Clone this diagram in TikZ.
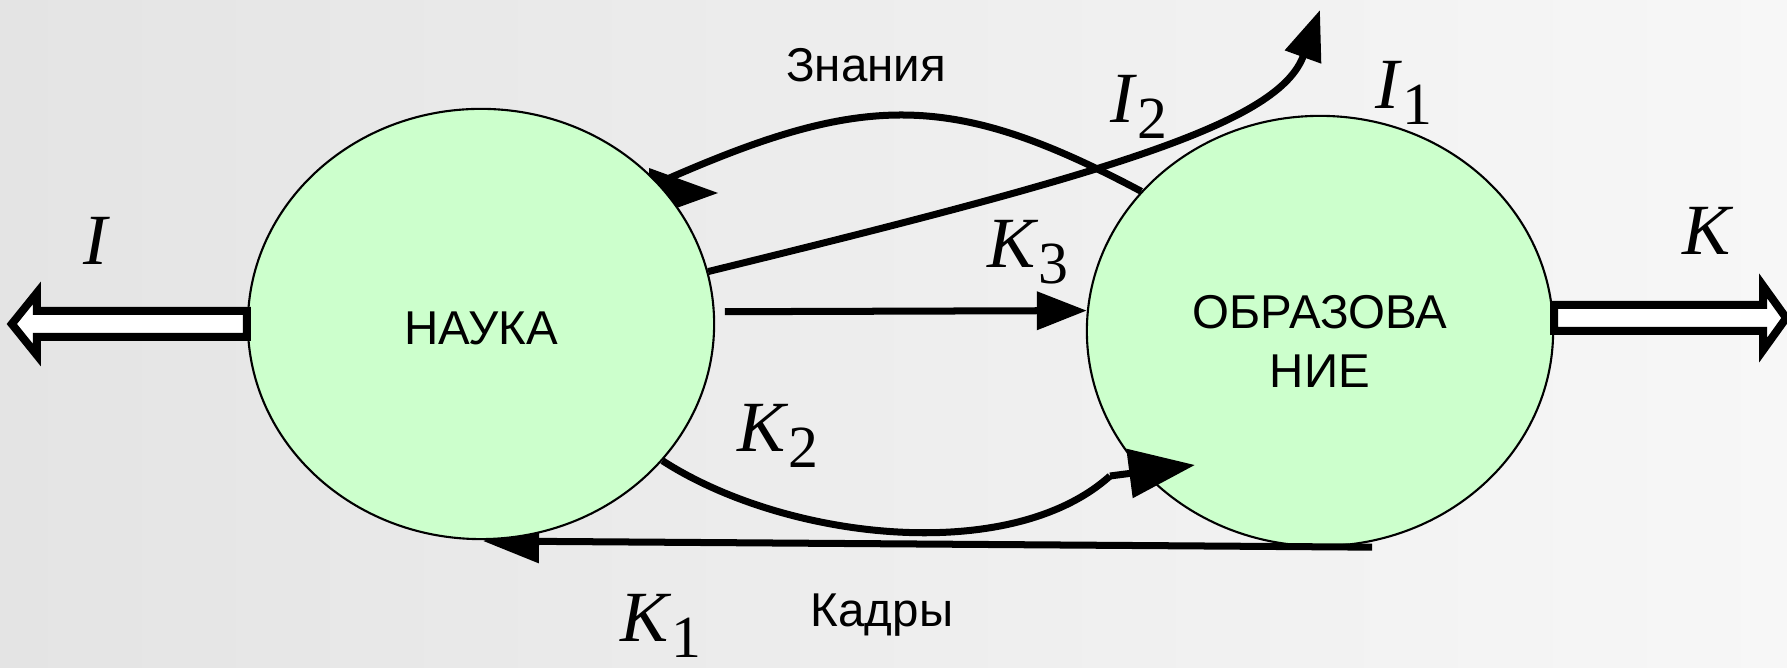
\documentclass[tikz,border=0pt]{standalone}
\usepackage{fontspec}
\setmainfont{Liberation Sans}
\newfontfamily\symfont{Liberation Serif}
\usetikzlibrary{arrows.meta,shapes.geometric}

\definecolor{bgleft}{RGB}{228,228,228}
\definecolor{bgright}{RGB}{247,247,247}
\definecolor{field}{RGB}{204,255,204}

% italic flow letter with a lowered index
\newcommand{\flowsym}[2]{\textit{#1}\raisebox{-4.5pt}{\fontsize{17}{17}\selectfont #2}}

\begin{document}
\begin{tikzpicture}[x=0.01cm, y=-0.01cm,
  sphere/.style={ellipse, draw, line width=0.6pt, fill=field, inner sep=0pt,
    minimum width=4.66cm, minimum height=4.3cm},
  word/.style={font=\fontsize{13.5}{16.8}\selectfont, align=center},
  sym/.style={font=\symfont\fontsize{20.5}{24}\selectfont},
  flow/.style={line width=0.07cm},
  tip/.style={-{Triangle[length=0.5cm,width=0.37cm]}},
  longtip/.style={-{Triangle[length=0.56cm,width=0.42cm]}},
  hollow/.style={draw, fill=white, line width=0.08cm, line join=miter}]

  \shade [left color=bgleft, right color=bgright] (0,0) rectangle (1787,668);
  \useasboundingbox (0,0) rectangle (1787,668);

  \node [sphere] (obr) at (1320,331) {};
  \node [word] (obrt) at (1320,341) {ОБРАЗОВА\\НИЕ};

  \coordinate (kadry) at (483,541);
  \coordinate (znan) at (665,180);

  % these two run under the left field
  \draw [flow, longtip] ([xshift=0.52cm]obr.south) -- (kadry);
  \draw [flow] (obr.142.6) .. controls (951,90) and (863,93) .. (znan);
  \fill (znan) ++(53,13) -- ++(-69,-25) -- ++(0,50) -- cycle;

  \node [sphere] (nauka) at (481,324) {};
  \node [word] (naukat) at (481,328) {НАУКА};

  \draw [hollow] (nauka.west) ++(0,-13) -- ++(-210,0) -- ++(0,-18) -- ++(-25,31)
    -- ++(25,31) -- ++(0,-18) -- ++(210,0) -- cycle;
  \draw [hollow] (obr.east) ++(0,-26) -- ++(209,0) -- ++(0,-19) -- ++(23,32)
    -- ++(-23,32) -- ++(0,-19) -- ++(-209,0) -- cycle;

  \draw [flow, tip, shorten <=0.1cm] (nauka.3) -- (obr.175.5);
  \draw [flow, tip] (nauka.13.3) .. controls (1115,172) and (1279,123) .. (1320,10);
  \draw [flow] (nauka.-37.8) .. controls (785,540) and (1010,566) .. (1110,476)
    coordinate (k2end);
  \draw [flow, -{Triangle[length=0.66cm,width=0.48cm]}] (k2end) -- (1195,465);

  \node [word] (zlbl) at (866,65) {Знания};
  \node [word] (klbl) at (882,615) {Кадры};

  \node [sym] (sI)  at (97,241)   {\textit{I}};
  \node [sym] (sK)  at (1708,231) {\textit{K}};
  \node [sym] (sI1) at (1404,93)  {\flowsym{I}{1}};
  \node [sym] (sI2) at (1139,107) {\flowsym{I}{2}};
  \node [sym] (sK3) at (1028,252) {\flowsym{K}{3}};
  \node [sym] (sK2) at (778,436)  {\flowsym{K}{2}};
  \node [sym] (sK1) at (661,626)  {\flowsym{K}{1}};
\end{tikzpicture}
\end{document}
